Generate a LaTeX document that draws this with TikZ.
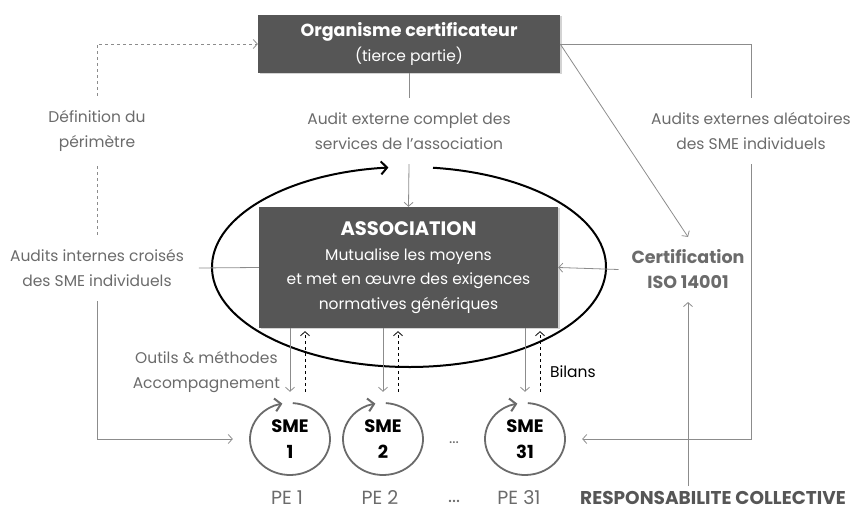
\documentclass[tikz,border=0pt]{standalone}
\usepackage{fontspec}
\setmainfont{Poppins}
\usetikzlibrary{arrows.meta}
\usetikzlibrary{shadows}
\usetikzlibrary{calc}
\definecolor{boxgray}{HTML}{565656}
\definecolor{txtgray}{HTML}{6B6B6B}
\definecolor{linegray}{HTML}{8C8C8C}
\tikzset{x=1pt, y=1pt,
darkbox/.style={ % Grey boxes with white text
fill=boxgray,
text=white,
align=center,
font=\fontsize{15.5}{24.5}\selectfont,
drop shadow={shadow xshift=1.5pt, shadow yshift=-1.5pt, opacity=0.35}},
lbltext/.style={ % Grey labels around the boxes
text=txtgray,
align=center,
inner sep=1pt,
outer sep=14pt,
font=\fontsize{15.5}{24.5}\selectfont},
pelabel/.style={ % Names under the SME
text=txtgray,
font=\fontsize{19}{24}\selectfont},
smenode/.style={ % One SME with its own cycle
circle,
minimum size=74pt,
align=center,
font=\bfseries\fontsize{18}{26}\selectfont},
graylink/.style={ % Thin grey connectors
draw=linegray,
line width=0.8pt,
-{Straight Barb[length=4pt, width=9pt]}},
dashlink/.style={ % Dashed connectors
graylink,
dashed},
cycline/.style={ % Thick cycle arrow
line width=2pt,
-{Straight Barb[length=6pt, width=13pt, line width=2pt]}}}

\begin{document}
\begin{tikzpicture}
\useasboundingbox (0,0) rectangle (856,513);
% cycle round the association
\coordinate (cyc) at (409,246);
\draw[cycline] ($(cyc)+(83:197pt and 100pt)$) arc[start angle=83, end angle=-264, x radius=197pt, y radius=100pt];
\node[darkbox, minimum width=302pt, minimum height=58pt] (orgcert) at (409,469)
  {\textbf{\fontsize{17.5}{24}\selectfont Organisme certificateur}\\(tierce partie)};
\node[darkbox, minimum width=299pt, minimum height=121pt] (assoc) at (408.5,245.5)
  {\textbf{\fontsize{19.5}{25}\selectfont ASSOCIATION}\\Mutualise les moyens\\et met en œuvre des exigences\\normatives génériques};
\node[lbltext] (defper) at (97,382) {Définition du\\périmètre};
\node[lbltext] (auditint) at (97,245) {Audits internes croisés\\des SME individuels};
\node[lbltext] (auditext) at (409,382) {Audit externe complet des\\services de l’association};
\node[lbltext] (auditalea) at (751,382) {Audits externes aléatoires\\des SME individuels};
\node[lbltext, font=\bfseries\fontsize{17.5}{25}\selectfont, outer sep=12pt] (certif) at (688,243.5) {Certification\\ISO 14001};
\node[lbltext, outer sep=0pt, anchor=east] (outils) at (281,141) {Outils \& méthodes\\Accompagnement};
\node[lbltext, text=black, outer sep=0pt, anchor=west] (bilans) at (549,141) {Bilans};
\node[smenode] (sme1) at (290,74) {SME\\1};
\node[smenode] (sme2) at (383,74) {SME\\2};
\node[smenode] (sme31) at (525,74) {SME\\31};
\node[lbltext, outer sep=0pt] (dotsa) at (454,70) {...};
\node[pelabel] (pe1) at (287,15) {PE 1};
\node[pelabel] (pe2) at (380,15) {PE 2};
\node[pelabel] (dotsb) at (454,12) {...};
\node[pelabel] (pe31) at (519,15) {PE 31};
\node[pelabel, text=boxgray, outer sep=2pt, font=\bfseries\fontsize{18.5}{24}\selectfont] (respcol) at (713,15) {RESPONSABILITE COLLECTIVE};
% cycles of the SME
\draw[cycline, draw=txtgray, line width=1.8pt] ($(sme1)+(86:40pt and 36pt)$) arc[start angle=86, end angle=-259, x radius=40pt, y radius=36pt];
\draw[cycline, draw=txtgray, line width=1.8pt] ($(sme2)+(86:40pt and 36pt)$) arc[start angle=86, end angle=-259, x radius=40pt, y radius=36pt];
\draw[cycline, draw=txtgray, line width=1.8pt] ($(sme31)+(86:40pt and 36pt)$) arc[start angle=86, end angle=-259, x radius=40pt, y radius=36pt];
% left side
\draw[dashlink] (defper.north) |- (orgcert.west);
\draw[dashlink, -] (defper.south) -- (auditint.north);
\draw[graylink, -] (auditint.east) -- (assoc.west);
\draw[graylink, shorten >=20pt] (auditint.south) |- (sme1.west);
% middle
\draw[graylink, -] (orgcert.south) -- (auditext.north);
\draw (auditext.south) edge[graylink] (assoc.north);
% right side
\draw[graylink, -] (orgcert.east) -| (auditalea.north);
\draw[graylink, shorten >=20pt] (auditalea.south) |- (sme31.east);
\draw (orgcert.east) edge[graylink] (certif.north);
\draw (certif.west) edge[graylink] (assoc.east);
\draw (respcol.north -| certif.south) edge[graylink] (certif.south);
% association and the SME
\draw[graylink, shorten >=10pt] (assoc.south -| sme1) -- (sme1.north);
\draw[graylink, shorten >=10pt] (assoc.south -| sme2) -- (sme2.north);
\draw[graylink, shorten >=10pt] (assoc.south -| sme31) -- (sme31.north);
\draw[dashlink, draw=black, shorten >=3pt] ($(sme1.north)+(15,10)$) -- ($(sme1.north |- assoc.south)+(15,0)$);
\draw[dashlink, draw=black, shorten >=3pt] ($(sme2.north)+(15,10)$) -- ($(sme2.north |- assoc.south)+(15,0)$);
\draw[dashlink, draw=black, shorten >=3pt] ($(sme31.north)+(15,10)$) -- ($(sme31.north |- assoc.south)+(15,0)$);
\end{tikzpicture}
\end{document}
